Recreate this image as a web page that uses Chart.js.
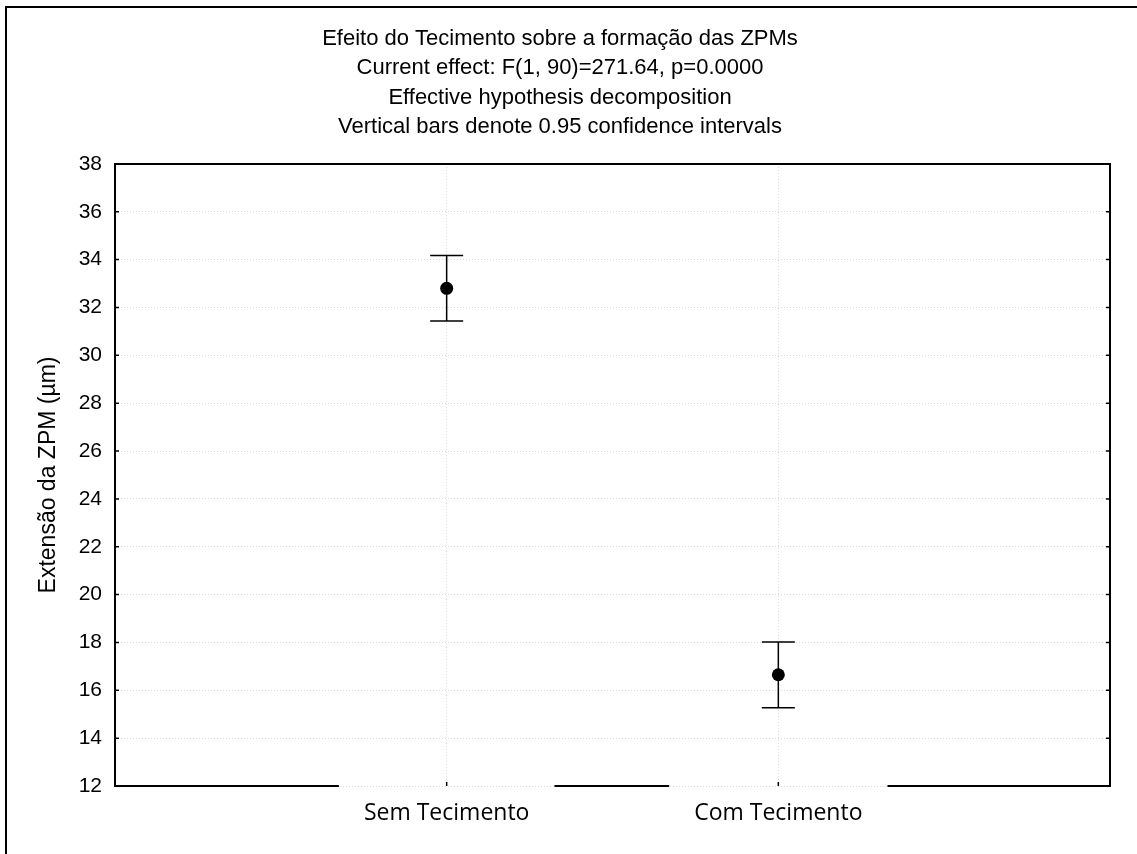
<!DOCTYPE html>
<html>
<head>
<meta charset="utf-8">
<script src="https://cdn.jsdelivr.net/npm/chart.js@4.4.1/dist/chart.umd.min.js"></script>
<style>
  html, body { margin: 0; padding: 0; background: #fff; }
  #wrap { width: 1137px; height: 854px; }
</style>
</head>
<body>
<div id="wrap"><canvas id="c" width="1137" height="854"></canvas></div>
<script>
// Group means and 0.95 confidence limits
const categories = ['Sem Tecimento', 'Com Tecimento'];
const means = [32.8, 16.65];
const ciLower = [31.43, 15.27];
const ciUpper = [34.17, 18.02];
const yMin = 12;
const yMax = 38;
const yStep = 2;
const titleLines = [
  'Efeito do Tecimento sobre a formação das ZPMs',
  'Current effect: F(1, 90)=271.64, p=0.0000',
  'Effective hypothesis decomposition',
  'Vertical bars denote 0.95 confidence intervals'
];
const yAxisTitle = 'Extensão da ZPM (µm)';

// Empty slots on both sides put the two groups at 1/3 and 2/3 of the width
const xLabels = [''].concat(categories, ['']);
const padSeries = arr => [null].concat(arr, [null]);

const arialFont = 'Liberation Sans, Arial, Helvetica, sans-serif';
const labelFont = 'Open Sans, Noto Sans, sans-serif';

// Outer frame of the figure
const framePlugin = {
  id: 'frame',
  beforeDraw(chart) {
    const ctx = chart.ctx;
    ctx.save();
    ctx.strokeStyle = '#000';
    ctx.lineWidth = 2;
    ctx.beginPath();
    ctx.moveTo(6, 854);
    ctx.lineTo(6, 7);
    ctx.lineTo(1137, 7);
    ctx.stroke();
    ctx.restore();
  }
};

// Vertical confidence-interval bars with end caps
const errorBarPlugin = {
  id: 'errorBars',
  beforeDatasetsDraw(chart) {
    const ctx = chart.ctx;
    const xs = chart.scales.x;
    const ys = chart.scales.y;
    ctx.save();
    ctx.strokeStyle = '#000';
    ctx.lineWidth = 1.5;
    const capHalf = 16.5;
    categories.forEach((cat, i) => {
      const px = xs.getPixelForValue(i + 1);
      const yLo = ys.getPixelForValue(ciLower[i]);
      const yHi = ys.getPixelForValue(ciUpper[i]);
      ctx.beginPath();
      ctx.moveTo(px, yLo);
      ctx.lineTo(px, yHi);
      ctx.moveTo(px - capHalf, yHi);
      ctx.lineTo(px + capHalf, yHi);
      ctx.moveTo(px - capHalf, yLo);
      ctx.lineTo(px + capHalf, yLo);
      ctx.stroke();
    });
    ctx.restore();
  }
};

// Plot box: full top/left/right sides, bottom side broken around the group labels,
// plus short inward tick marks
const boxPlugin = {
  id: 'plotBox',
  afterDraw(chart) {
    const ctx = chart.ctx;
    const a = chart.chartArea;
    const xs = chart.scales.x;
    const ys = chart.scales.y;
    ctx.save();
    ctx.strokeStyle = '#000';
    ctx.lineWidth = 2;
    ctx.lineCap = 'square';
    ctx.beginPath();
    ctx.moveTo(a.left, a.bottom);
    ctx.lineTo(a.left, a.top);
    ctx.lineTo(a.right, a.top);
    ctx.lineTo(a.right, a.bottom);
    ctx.stroke();

    // bottom side with gaps under each label
    ctx.font = xs.options.ticks.font.size + 'px ' + labelFont;
    const gaps = categories.map((cat, i) => {
      const px = xs.getPixelForValue(i + 1);
      const half = ctx.measureText(cat).width / 2 + 25;
      return [px - half, px + half];
    });
    ctx.lineCap = 'butt';
    ctx.beginPath();
    let start = a.left - 1;
    gaps.forEach(g => {
      ctx.moveTo(start, a.bottom);
      ctx.lineTo(g[0], a.bottom);
      start = g[1];
    });
    ctx.moveTo(start, a.bottom);
    ctx.lineTo(a.right + 1, a.bottom);
    ctx.stroke();

    // inward tick marks
    ctx.lineWidth = 1.5;
    ctx.beginPath();
    for (let v = yMin + yStep; v < yMax; v += yStep) {
      const py = ys.getPixelForValue(v);
      ctx.moveTo(a.left, py);
      ctx.lineTo(a.left + 4, py);
      ctx.moveTo(a.right, py);
      ctx.lineTo(a.right - 4, py);
    }
    categories.forEach((cat, i) => {
      const px = xs.getPixelForValue(i + 1);
      ctx.moveTo(px, a.bottom);
      ctx.lineTo(px, a.bottom - 4);
    });
    ctx.stroke();
    ctx.restore();
  }
};

new Chart(document.getElementById('c'), {
  type: 'line',
  data: {
    labels: xLabels,
    datasets: [{
      data: padSeries(means),
      showLine: false,
      pointRadius: 6.5,
      pointHoverRadius: 6.5,
      pointBackgroundColor: '#000',
      pointBorderColor: '#000',
      pointBorderWidth: 0
    }]
  },
  options: {
    responsive: false,
    devicePixelRatio: 1,
    animation: false,
    events: [],
    layout: { padding: { left: 10, right: 27, top: 0, bottom: 0 } },
    plugins: {
      legend: { display: false },
      tooltip: { enabled: false },
      title: {
        display: true,
        text: titleLines,
        color: '#000',
        font: { family: arialFont, size: 22, weight: 'normal', lineHeight: 1.34 },
        padding: { top: 24, bottom: 22 }
      }
    },
    scales: {
      x: {
        type: 'category',
        offset: false,
        border: { display: false, dash: [1, 2] },
        grid: {
          display: true,
          drawTicks: false,
          color: '#d9d9d9',
          lineWidth: 1
        },
        ticks: {
          autoSkip: false,
          maxRotation: 0,
          minRotation: 0,
          color: '#000',
          padding: 14,
          font: { family: labelFont, size: 23 }
        },
        afterFit(scale) { scale.height = 68; }
      },
      y: {
        min: yMin,
        max: yMax,
        border: { display: false, dash: [1, 2] },
        grid: {
          drawTicks: false,
          color: '#d9d9d9',
          lineWidth: 1
        },
        ticks: {
          stepSize: yStep,
          color: '#000',
          padding: 13,
          font: { family: arialFont, size: 21 }
        },
        title: {
          display: true,
          text: yAxisTitle,
          color: '#000',
          font: { family: arialFont, size: 23 },
          padding: { top: 25, bottom: 0 }
        },
        afterFit(scale) { scale.width = 105; }
      }
    }
  },
  plugins: [framePlugin, errorBarPlugin, boxPlugin]
});
</script>
</body>
</html>
